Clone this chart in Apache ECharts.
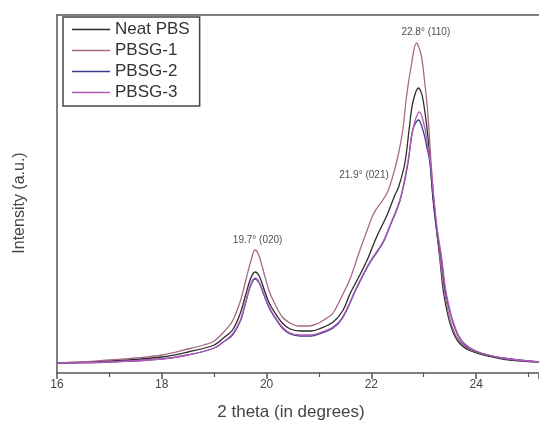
<!DOCTYPE html>
<html><head><meta charset="utf-8">
<script src="https://cdn.jsdelivr.net/npm/echarts@6/dist/echarts.min.js"></script>
<style>html,body{margin:0;padding:0;background:#fff}#c{width:539px;height:426px}</style>
</head><body><div id="c"></div>
<script>
// 2 theta (degrees) and intensity (a.u.)
const neatTheta = [16,17,18,18.5,19,19.2,19.35,19.5,19.6,19.7,19.78,19.86,19.95,20.05,20.15,20.3,20.45,20.65,20.85,21,21.27,21.45,21.6,21.75,21.92,22.1,22.3,22.45,22.52,22.64,22.72,22.79,22.9,22.98,23.08,23.13,23.18,23.25,23.31,23.38,23.5,23.65,23.9,24.5,25.2];
const neatI     = [10,12,16,21,28,36,43,60,78,95,101,97,84,70,61,50,44,42,42,44,51,62,80,95,113,136,158,178,186,210,243,270,285,275,236,205,172,140,113,80,50,32,22,14,11];

const pbsg1Theta = [16,16.5,17,17.5,18,18.5,18.8,19,19.2,19.35,19.5,19.6,19.7,19.78,19.85,19.95,20.05,20.15,20.3,20.45,20.6,20.8,21,21.15,21.27,21.45,21.6,21.75,21.9,22.05,22.18,22.3,22.4,22.5,22.6,22.67,22.77,22.86,22.95,23.02,23.07,23.1,23.14,23.19,23.25,23.31,23.4,23.52,23.68,23.95,24.5,25.2];
const pbsg1I     = [10,11,13,15,18,24,28,32,42,52,72,92,112,123,118,100,82,70,56,50,47,47,50,55,60,78,95,118,140,160,170,180,195,215,243,276,310,330,318,290,265,243,210,176,143,116,80,50,32,22,15,11];

const pbsg2Theta = [16,17,18,18.5,19,19.2,19.35,19.5,19.6,19.7,19.78,19.86,19.95,20.05,20.15,20.3,20.45,20.65,20.85,21,21.27,21.45,21.73,21.97,22.22,22.35,22.55,22.7,22.79,22.9,23,23.05,23.12,23.18,23.25,23.33,23.42,23.56,23.72,23.98,24.5,25.2];
const pbsg2I     = [10,11,14,18,25,32,38,52,70,88,94,90,78,65,56,45,39,37,37,39,45,55,86,110,130,146,173,210,243,253,240,228,210,176,143,116,80,50,32,22,15,11];

const pbsg3Theta = [16,17,18,18.5,19,19.2,19.35,19.5,19.6,19.7,19.78,19.86,19.95,20.05,20.15,20.3,20.45,20.65,20.85,21,21.27,21.45,21.73,21.97,22.22,22.35,22.55,22.7,22.8,22.92,23.02,23.08,23.13,23.19,23.26,23.34,23.43,23.57,23.73,24,24.5,25.2];
const pbsg3I     = [10,11,14,18,25,32,39,53,71,89,95,91,79,66,57,46,40,38,38,40,46,56,87,111,131,147,174,212,245,261,245,225,210,176,143,116,80,50,32,22,15,11];

const seriesNames = ['Neat PBS','PBSG-1','PBSG-2','PBSG-3'];
const xTicks = [16,18,20,22,24];
const peakLabelTheta = [19.83,21.86,23.04];
const peakLabelI = [133,198,341];
const peakLabelText = ['19.7° (020)','21.9° (021)','22.8° (110)'];

const colors = ['#2b2b2b','#a86a82','#3b3d8e','#b25ab8'];
const pairs = (xs, ys) => xs.map((x,i)=>[x, ys[i]]);
const allData = [pairs(neatTheta,neatI), pairs(pbsg1Theta,pbsg1I), pairs(pbsg2Theta,pbsg2I), pairs(pbsg3Theta,pbsg3I)];

const chart = echarts.init(document.getElementById('c'), null, {renderer:'canvas'});
const axisColor = '#555';
const font = 'Liberation Sans, Arial, sans-serif';
chart.setOption({
  animation:false,
  backgroundColor:'#fff',
  grid:{left:57,right:0,top:15,bottom:53},
  legend:{
    data:seriesNames.map((n,i)=>({name:n,icon:'rect',itemStyle:{color:colors[i]}})),
    orient:'vertical', left:63, top:17,
    itemWidth:38, itemHeight:1.5, itemGap:4,
    padding:[4,10,5,9],
    borderColor:'#444', borderWidth:1.5,
    textStyle:{fontFamily:font,fontSize:17,color:'#333',lineHeight:17}
  },
  xAxis:[{
    type:'value', min:16, max:25.2, interval:2,
    name:'2 theta (in degrees)', nameLocation:'middle', nameGap:31,
    nameTextStyle:{fontFamily:font,fontSize:17,color:'#444',padding:[0,14,0,0]},
    axisLine:{show:true,lineStyle:{color:axisColor,width:1.5}},
    axisTick:{show:true,length:6,lineStyle:{color:axisColor,width:1.5}},
    minorTick:{show:true,splitNumber:2,length:4,lineStyle:{color:axisColor,width:1.2}},
    axisLabel:{fontFamily:font,fontSize:12,color:'#444',margin:6,showMaxLabel:false,
      formatter:v=>xTicks.includes(v)?String(v):''},
    splitLine:{show:false}
  },{
    type:'value', min:16, max:25.2, position:'top',
    axisLine:{show:true,onZero:false,lineStyle:{color:axisColor,width:1.5}},
    axisTick:{show:false}, axisLabel:{show:false}, splitLine:{show:false}
  }],
  yAxis:{
    type:'value', min:0, max:358,
    name:'Intensity (a.u.)', nameLocation:'middle', nameGap:29,
    nameTextStyle:{fontFamily:font,fontSize:16,color:'#444',padding:[0,18,0,0]},
    axisLine:{show:true,lineStyle:{color:axisColor,width:1.5}},
    axisTick:{show:false}, axisLabel:{show:false}, splitLine:{show:false}
  },
  series: seriesNames.map((n,i)=>({
    name:n, type:'line', data:allData[i], showSymbol:false, symbol:'none',
    smooth:0.35, lineStyle:{color:colors[i],width:1.3}, itemStyle:{color:colors[i]}
  })).concat([{
    name:'labels', type:'scatter', symbolSize:0, silent:true,
    data:peakLabelTheta.map((t,i)=>({value:[t,peakLabelI[i]],label:{show:true,formatter:peakLabelText[i]}})),
    label:{position:'inside',fontFamily:font,fontSize:10,color:'#222'}
  }])
});
</script></body></html>
